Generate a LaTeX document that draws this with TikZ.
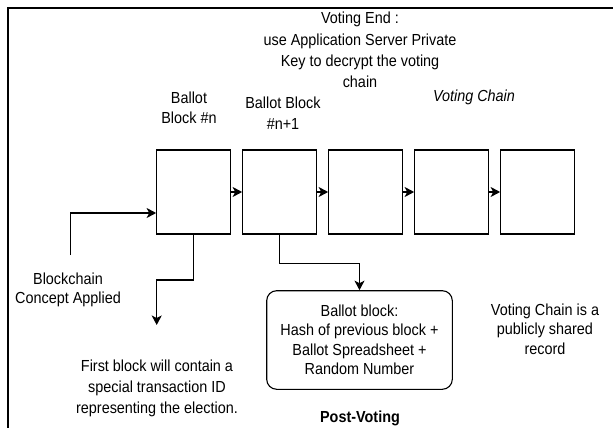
\documentclass[tikz,border=0pt]{standalone}
\usepackage{fontspec}
\setmainfont{Liberation Sans}[FakeStretch=0.9]
\usetikzlibrary{arrows.meta,calc}
\begin{document}
\begin{tikzpicture}[x=1pt,y=-1pt,
  txt/.style={align=center,inner sep=0pt,font=\fontsize{16}{19.5}\selectfont},
  blk/.style={draw,line width=1.1pt,minimum width=74pt,minimum height=84pt,inner sep=0pt},
  arr/.style={line width=1.1pt,-{Stealth[length=9.5pt,width=10pt,inset=2.5pt]}},
  ]
\useasboundingbox (0,0) rectangle (613,428);
% frame edges
\draw[line width=1.6pt] (8,428) -- (8,8) -- (613,8);

% the voting chain
\node[blk] (b1) at (193.7,192) {};
\node[blk] (b2) at (279.7,192) {};
\node[blk] (b3) at (365.7,192) {};
\node[blk] (b4) at (451.7,192) {};
\node[blk] (b5) at (537.7,192) {};
\foreach \a/\b in {b1/b2,b2/b3,b3/b4,b4/b5}
  \draw[arr] (\a.east) -- (\b.west);

% labels
\node[txt,font=\fontsize{16}{21.3}\selectfont] (vend) at (360,50) {Voting End :\\use Application Server Private\\Key to decrypt the voting\\chain};
\node[txt,font=\fontsize{16}{20.5}\selectfont] (lbn) at (189,108) {Ballot\\Block \#n};
\node[txt,font=\fontsize{16}{20.5}\selectfont] (lbn1) at (283,113) {Ballot Block\\\#n+1};
\node[txt,font=\fontsize{16}{19.5}\selectfont\itshape] (vchain) at (474,97) {Voting Chain};
\node[txt] (bca) at (68,290) {Blockchain\\Concept Applied};
\node[txt,font=\fontsize{16}{21}\selectfont] (first) at (157,388) {First block will contain a\\special transaction ID\\representing the election.};
\node[txt] (pub) at (545,329) {Voting Chain is a\\publicly shared\\record};
\node[txt,draw,line width=1.1pt,rounded corners=10pt,minimum width=185.6pt,minimum height=98.6pt] (rb) at (359.5,340)
  {Ballot block:\\Hash of previous block +\\Ballot Spreadsheet +\\Random Number};
\node[txt,font=\fontsize{16}{19.5}\selectfont\bfseries] (post) at (360,418) {Post-Voting};

% connectors
\coordinate (src) at (70.7,255);
\draw[arr] (src) |- ([yshift=-21pt]b1.west);
\coordinate (k1) at (156.7,280);
\coordinate (fb) at (156.7,325);
\draw[arr] (b1.south) |- (k1) -- (fb);
\draw[arr] (b2.south) -- ++(0,28.5) -| (rb.north);
\end{tikzpicture}
\end{document}
